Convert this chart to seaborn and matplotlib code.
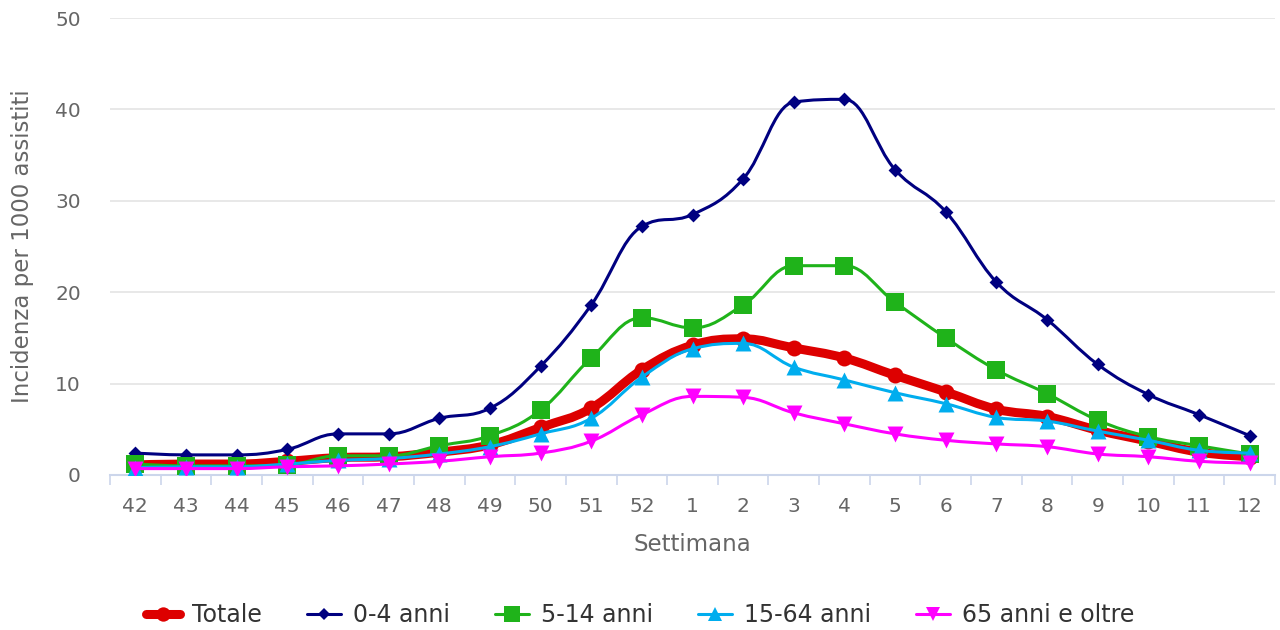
import numpy as np
import pandas as pd
import seaborn as sns
import matplotlib.pyplot as plt
from matplotlib.path import Path
from matplotlib.patches import PathPatch
from matplotlib.lines import Line2D

weeks = ["42", "43", "44", "45", "46", "47", "48", "49", "50", "51", "52",
         "1", "2", "3", "4", "5", "6", "7", "8", "9", "10", "11", "12"]

totale = [1.1, 1.2, 1.2, 1.5, 1.9, 2.0, 2.5, 3.3, 5.2, 7.3, 11.5,
          14.2, 14.9, 13.9, 12.8, 10.9, 9.1, 7.2, 6.4, 4.9, 3.7, 2.5, 2.0]
anni_0_4 = [2.4, 2.2, 2.2, 2.8, 4.5, 4.5, 6.2, 7.3, 11.9, 18.6, 27.2,
            28.5, 32.4, 40.8, 41.1, 33.4, 28.8, 21.1, 17.0, 12.1, 8.8, 6.6, 4.3]
anni_5_14 = [1.2, 1.0, 1.0, 1.1, 2.1, 2.1, 3.2, 4.3, 7.1, 12.8, 17.2,
             16.1, 18.6, 22.9, 22.9, 18.9, 15.0, 11.5, 8.9, 6.0, 4.2, 3.2, 2.3]
anni_15_64 = [0.8, 0.9, 0.9, 1.2, 1.6, 1.8, 2.3, 3.1, 4.5, 6.2, 10.7,
              13.8, 14.4, 11.8, 10.4, 9.0, 7.8, 6.3, 5.9, 4.8, 3.8, 2.7, 2.4]
anni_65 = [0.7, 0.7, 0.7, 0.9, 1.0, 1.2, 1.5, 2.0, 2.4, 3.7, 6.6,
           8.6, 8.5, 6.8, 5.6, 4.5, 3.8, 3.4, 3.1, 2.3, 2.0, 1.5, 1.3]

series = [
    ("Totale", totale, "#dd0000", "o", 132, 6.5),
    ("0-4 anni", anni_0_4, "#000080", "D", 50, 2.2),
    ("5-14 anni", anni_5_14, "#1fb31a", "s", 150, 2.2),
    ("15-64 anni", anni_15_64, "#00adee", "^", 132, 2.2),
    ("65 anni e oltre", anni_65, "#ff00ff", "v", 132, 2.2),
]


def spline_path(xs, ys, smoothing=1.5):
    # bezier curve through the points, like a highcharts spline
    n = len(xs)
    left = [None] * n
    right = [None] * n
    for i in range(1, n - 1):
        x, y = xs[i], ys[i]
        lx, ly = xs[i - 1], ys[i - 1]
        nx, ny = xs[i + 1], ys[i + 1]
        d = smoothing + 1
        lcx = (smoothing * x + lx) / d
        lcy = (smoothing * y + ly) / d
        rcx = (smoothing * x + nx) / d
        rcy = (smoothing * y + ny) / d
        if rcx != lcx:
            corr = ((rcy - lcy) * (rcx - x)) / (rcx - lcx) + y - rcy
            lcy += corr
            rcy += corr
        if lcy > ly and lcy > y:
            lcy = max(ly, y)
            rcy = 2 * y - lcy
        elif lcy < ly and lcy < y:
            lcy = min(ly, y)
            rcy = 2 * y - lcy
        if rcy > ny and rcy > y:
            rcy = max(ny, y)
            lcy = 2 * y - rcy
        elif rcy < ny and rcy < y:
            rcy = min(ny, y)
            lcy = 2 * y - rcy
        left[i] = (lcx, lcy)
        right[i] = (rcx, rcy)
    verts = [(xs[0], ys[0])]
    codes = [Path.MOVETO]
    for i in range(1, n):
        c1 = right[i - 1] if right[i - 1] else (xs[i - 1], ys[i - 1])
        c2 = left[i] if left[i] else (xs[i], ys[i])
        verts += [c1, c2, (xs[i], ys[i])]
        codes += [Path.CURVE4] * 3
    return Path(verts, codes)


sns.set_style("white")
plt.rcParams['font.family'] = ['DejaVu Sans']

fig = plt.figure(figsize=(12.8, 6.3), dpi=100)
ax = fig.add_axes([110 / 1280, 1 - 475 / 630, 1165 / 1280, 457 / 630])

pos = np.arange(len(weeks))
z = 3
for name, vals, color, marker, size, lw in series:
    patch = PathPatch(spline_path(pos, vals), facecolor="none", edgecolor=color,
                      lw=lw, capstyle="round", joinstyle="round", zorder=z)
    ax.add_patch(patch)
    df = pd.DataFrame({"x": pos, "y": vals})
    sns.scatterplot(data=df, x="x", y="y", marker=marker, s=size, color=color,
                    edgecolor=color, linewidth=0, ax=ax, zorder=z + 0.5, legend=False)
    z += 1

ax.set_xlim(-0.5, len(weeks) - 0.5)
ax.set_ylim(0, 50)
ax.set_yticks([0, 10, 20, 30, 40, 50])
ax.yaxis.grid(True, color="#e6e6e6", lw=1.3)
ax.set_axisbelow(True)
ax.set_xticks(pos)
ax.set_xticklabels(weeks)
ax.set_xticks(np.arange(-0.5, len(weeks)), minor=True)
ax.tick_params(axis="x", which="major", bottom=False, length=0, pad=16,
               labelsize=14.5, labelcolor="#666666")
ax.tick_params(axis="x", which="minor", bottom=True, length=7.5, width=1.2,
               color="#ccd6eb", direction="out")
ax.tick_params(axis="y", left=False, length=0, pad=21, labelsize=14.5, labelcolor="#666666")
for s in ["top", "right", "left"]:
    ax.spines[s].set_visible(False)
ax.spines["bottom"].set_color("#ccd6eb")
ax.spines["bottom"].set_linewidth(1.5)
ax.spines["bottom"].set_zorder(2)

ax.set_xlabel("Settimana", fontsize=16.5, color="#666666", labelpad=12)
ax.set_ylabel("Incidenza per 1000 assistiti", fontsize=16.5, color="#666666", labelpad=15)

handles = [Line2D([], [], color=c, lw=lw, marker=m, markersize=np.sqrt(s) * 0.9,
                  markeredgewidth=0)
           for _, _, c, m, s, lw in series]
labels = [s[0] for s in series]
fig.legend(handles, labels, loc="center", bbox_to_anchor=(0.5, 1 - 615 / 630), ncol=5,
           frameon=False, fontsize=17, labelcolor="#333333", handlelength=1.45,
           handletextpad=0.5, columnspacing=1.9)

fig.savefig("out.png", dpi=100)
